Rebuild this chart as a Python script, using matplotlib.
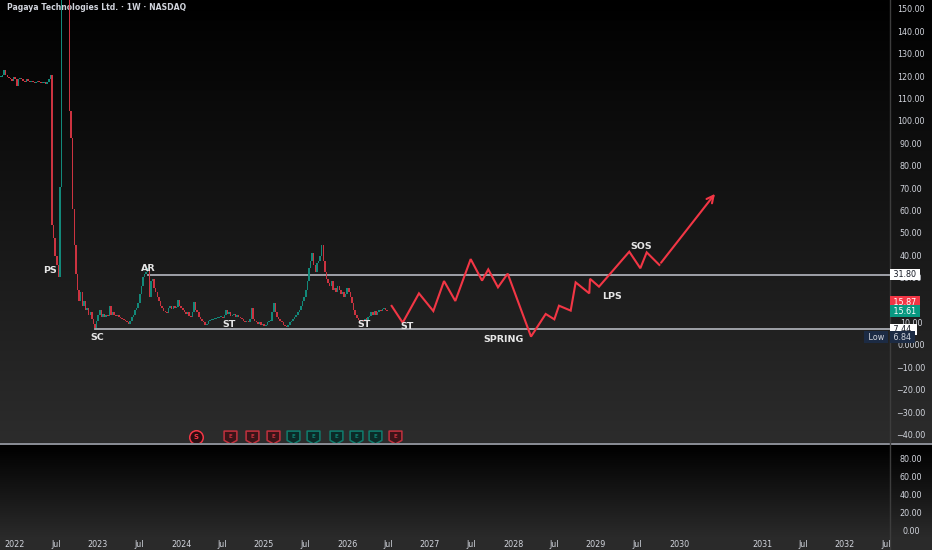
import numpy as np
import matplotlib
matplotlib.use("Agg")
import matplotlib.pyplot as plt
from matplotlib.path import Path
from matplotlib.transforms import blended_transform_factory

# weekly closes (PGY), one value per week starting late 2021
weekly_close = [
    120, 121, 123, 121, 120, 119.5, 119, 118.5, 120, 119,
    116, 119, 119.5, 119, 118.5, 118, 119, 118.5, 118, 118.5,
    118, 117.5, 118, 118.5, 118, 117.5, 117.5, 118, 117, 118,
    119, 121,
    54, 48, 40, 36, 31, 71, 175, 200, 230, 215,
    200, 105, 93, 61, 45, 32, 25, 20, 24, 18,
    20, 16, 17, 14, 15, 12, 10, 8,
    11, 14, 16, 13, 14.5, 13, 14, 13.5, 18, 14,
    15, 14, 13.5, 14, 13, 12.5, 12, 11.5, 11, 10.5,
    10, 11, 13, 14, 16, 17, 19, 23, 27, 31,
    32, 33, 35, 22, 29, 30, 26, 24, 22, 20,
    18, 17, 15.5, 15, 14.7, 17, 18, 16.5, 18, 17,
    17.5, 20.5, 18, 17, 16, 15, 14.5, 15, 13.5, 13,
    15, 19.5, 16, 15, 13, 12, 11, 10.5, 9.5, 10,
    11, 11.5, 11.5, 12, 12, 12.5, 12.5, 13, 13, 12.5,
    14, 16, 14.5, 15, 13.5, 14, 14.5, 13, 14, 13,
    12.5, 12, 11, 10.5, 11, 10.5, 12, 17, 12, 11,
    10.5, 10, 10.5, 9.5, 10, 9, 9.5, 10.5, 11, 11,
    15, 19, 15, 13, 12, 11, 10.5, 9.5, 9, 8.5,
    9.5, 10.5, 11, 12, 13, 14, 15, 16, 18, 20,
    22, 25, 29, 35, 38, 41.5, 36, 33, 37, 38,
    40, 45, 38, 33, 30, 28, 27, 29, 25, 26,
    24, 27, 25, 23, 24, 22, 23, 26, 24, 22,
    19, 16, 14, 12.5, 11.6, 11, 11.5, 11, 12, 11.8,
    13, 13.5, 15, 14, 15.5, 14, 15, 16, 15.5, 16.5,
    17, 16, 15.61,
]
first_week = 2021.83

# projected wyckoff path (time in years, price)
path_t = [2026.538, 2026.671, 2026.867, 2027.040, 2027.169, 2027.305, 2027.490,
          2027.627, 2027.702, 2027.819, 2027.936, 2028.217, 2028.394, 2028.498,
          2028.554, 2028.695, 2028.755, 2028.919, 2028.928, 2029.036, 2029.401,
          2029.534, 2029.611, 2029.763, 2030.454]
path_p = [17.9, 10.4, 23.5, 15.6, 29.0, 20.1, 38.8, 29.2, 34.2, 26.2, 32.3,
          4.2, 14.3, 11.9, 18.0, 15.8, 28.4, 23.5, 30.0, 26.5, 42.1, 34.7,
          41.8, 36.2, 68.9]

phase_labels = ["PS", "AR", "SC", "ST", "ST", "ST", "SPRING", "LPS", "SOS"]
phase_t = [2022.42, 2023.61, 2022.99, 2024.58, 2026.21, 2026.72, 2027.89, 2029.19, 2029.54]
phase_p = [33.9, 34.8, 4.0, 9.4, 9.4, 8.9, 2.7, 21.9, 44.6]

range_top, range_top_start = 31.80, 2023.60
range_low, range_low_start = 7.44, 2022.96
last_bid, last_ask, period_low = 15.61, 15.87, 6.84

event_t = [2024.18, 2024.59, 2024.855, 2025.108, 2025.349, 2025.59, 2025.867,
           2026.108, 2026.337, 2026.578]
event_kind = ["S", "Er", "Er", "Er", "Eg", "Eg", "Eg", "Eg", "Eg", "Er"]

price_ticks = [150, 140, 130, 120, 110, 100, 90, 80, 70, 60, 50, 40, 30, 10, 0,
               -10, -20, -30, -40]
vol_ticks = [0, 20, 40, 60, 80]
date_ticks = [2022, 2022.5, 2023, 2023.5, 2024, 2024.5, 2025, 2025.5, 2026, 2026.5,
              2027, 2027.5, 2028, 2028.5, 2029, 2029.5, 2030, 2031, 2031.5, 2032, 2032.5]
date_labels = ["2022", "Jul", "2023", "Jul", "2024", "Jul", "2025", "Jul", "2026", "Jul",
               "2027", "Jul", "2028", "Jul", "2029", "Jul", "2030", "2031", "Jul", "2032", "Jul"]

W, H = 932, 550
GREEN = "#12897a"
RED = "#cc3340"
TXT = "#d1d4dc"

fig = plt.figure(figsize=(W / 100, H / 100), dpi=100)
fig.patch.set_facecolor("#2a2a2a")

# background gradients
bg = fig.add_axes([0, 0, 1, 1])
bg.set_xlim(0, W)
bg.set_ylim(H, 0)
bg.axis("off")
grad = np.linspace(0, 1, 256).reshape(-1, 1)
bg.imshow(grad, extent=(0, W, 442, 0), cmap=matplotlib.colors.LinearSegmentedColormap.from_list(
    "g1", ["#000000", "#2c2c2c"]), aspect="auto", zorder=0)
bg.imshow(grad, extent=(0, W, 537, 445), cmap=matplotlib.colors.LinearSegmentedColormap.from_list(
    "g2", ["#000000", "#2a2a2a"]), aspect="auto", zorder=0)
bg.add_patch(plt.Rectangle((0, 537), W, 13, color="#2a2a2a", zorder=0))
bg.plot([0, W], [443.5, 443.5], color="#8a8d95", lw=1.4, zorder=1)
bg.plot([890, 890], [0, H], color="#3d3d3d", lw=1, zorder=1)
bg.text(7, 7, "Pagaya Technologies Ltd. \u00b7 1W \u00b7 NASDAQ", color=TXT,
        fontsize=5.6, fontweight="bold", va="center", ha="left")

# main price pane
ax = fig.add_axes([0, (H - 442) / H, 890 / W, 442 / H])
ax.set_facecolor("none")
t0 = 2022 - 15 / 83
t1 = 2022 + 875 / 83
ax.set_xlim(t0, t1)
ax.set_ylim((346 - 442) / 2.24, 346 / 2.24)
for s in ax.spines.values():
    s.set_visible(False)
ax.set_xticks([])
ax.set_yticks([])

closes = np.array(weekly_close, dtype=float)
opens = np.concatenate([[closes[0]], closes[:-1]])
weeks = first_week + np.arange(len(closes)) / 52
up = closes >= opens
bottoms = np.minimum(opens, closes)
heights = np.maximum(np.abs(closes - opens), 0.5)
ax.bar(weeks, heights, bottom=bottoms, width=0.95 / 52,
       color=np.where(up, GREEN, RED), linewidth=0, zorder=3)

ax.plot([range_top_start, t1], [range_top, range_top], color="#a9acb3", lw=1.3, zorder=2)
ax.plot([range_low_start, t1], [range_low, range_low], color="#a9acb3", lw=1.3, zorder=2)

ax.plot(path_t[:-1], path_p[:-1], color="#f23645", lw=1.5, zorder=4, solid_joinstyle="miter")
ax.annotate("", xy=(path_t[-1], path_p[-1]), xytext=(path_t[-2], path_p[-2]),
            arrowprops=dict(arrowstyle="->,head_length=0.5,head_width=0.25",
                            color="#f23645", lw=1.5), zorder=4)

for lab, t, p in zip(phase_labels, phase_t, phase_p):
    ax.text(t, p, lab, color="#e6e6e6", fontsize=6.8, fontweight="bold",
            ha="center", va="center", zorder=5)

# event markers along the bottom of the price pane
shield = Path([(-1, 1), (1, 1), (1, -0.45), (0, -1), (-1, -0.45), (-1, 1)],
              [Path.MOVETO, Path.LINETO, Path.LINETO, Path.LINETO, Path.LINETO, Path.CLOSEPOLY])
ev_y = (346 - 437) / 2.24
for t, k in zip(event_t, event_kind):
    if k == "S":
        ax.scatter([t], [ev_y], s=95, marker="o", facecolor="#2a0c10", edgecolor="#f23645",
                   linewidth=1.1, zorder=6)
        ax.text(t, ev_y, "S", color="#f23645", fontsize=5, fontweight="bold",
                ha="center", va="center", zorder=7)
    else:
        ec = "#c2303d" if k == "Er" else "#0f7d6e"
        fc = "#3a1418" if k == "Er" else "#0c2a27"
        ax.scatter([t], [ev_y], s=85, marker=shield, facecolor=fc, edgecolor=ec,
                   linewidth=1.1, zorder=6)
        ax.text(t, ev_y + 0.4, "E", color=ec, fontsize=4, fontweight="bold",
                ha="center", va="center", zorder=7)

# right price scale
blend = blended_transform_factory(ax.transAxes, ax.transData)
lx = 911 / 890
for v in price_ticks:
    lab = "0.0000" if v == 0 else f"{v:.2f}".replace("-", "\u2212")
    ax.text(lx, v, lab, transform=blend, color=TXT, fontsize=5.8,
            ha="center", va="center", clip_on=False, zorder=5)

bx = 891 / 890
def price_box(y, text, fc, tc):
    ax.text(bx, y, text, transform=blend, color=tc, fontsize=5.8, ha="left", va="center",
            clip_on=False, zorder=8,
            bbox=dict(boxstyle="square,pad=0.15", facecolor=fc, edgecolor="none"))

price_box(range_top, " 31.80 ", "#ffffff", "#131722")
price_box(19.6, f" {last_ask:.2f} ", "#f23645", "#ffffff")
price_box(15.6, f" {last_bid:.2f} ", "#089981", "#ffffff")
price_box(range_low, f" {range_low:.2f}  ", "#ffffff", "#131722")
price_box(4.0, f" {period_low:.2f} ", "#1c2b44", TXT)
ax.text(876 / 890, 4.0, " Low ", transform=blend, color=TXT, fontsize=5.8, ha="center",
        va="center", clip_on=False, zorder=8,
        bbox=dict(boxstyle="square,pad=0.15", facecolor="#1c2b44", edgecolor="none"))

# lower (empty) pane
ax2 = fig.add_axes([0, (H - 537) / H, 890 / W, (537 - 445) / H])
ax2.set_facecolor("none")
ax2.set_xlim(t0, t1)
ax2.set_ylim((531.7 - 537) / 0.9, (531.7 - 445) / 0.9)
for s in ax2.spines.values():
    s.set_visible(False)
ax2.set_yticks([])
ax2.set_xticks(date_ticks)
ax2.set_xticklabels(date_labels, color=TXT, fontsize=5.8)
ax2.tick_params(axis="x", length=0, pad=2.5)
blend2 = blended_transform_factory(ax2.transAxes, ax2.transData)
for v in vol_ticks:
    ax2.text(lx, v, f"{v:.2f}", transform=blend2, color=TXT, fontsize=5.8,
             ha="center", va="center", clip_on=False)

fig.savefig("out.png", dpi=100, facecolor=fig.get_facecolor())
